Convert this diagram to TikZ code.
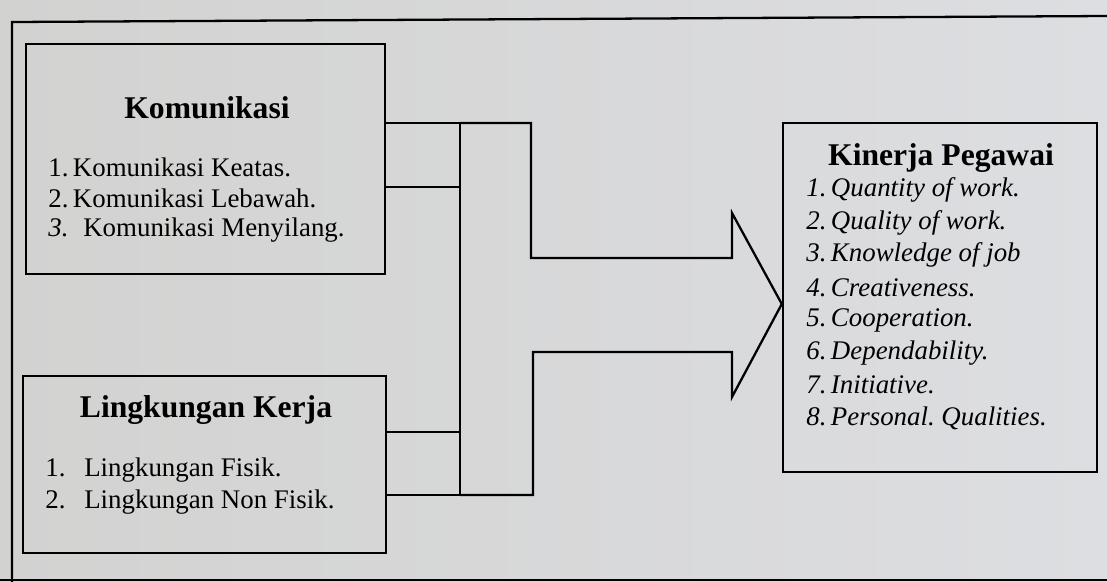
\documentclass[tikz,border=0pt]{standalone}
\usepackage{fontspec}
\setmainfont{Liberation Serif}
\definecolor{paperL}{RGB}{210,210,209}
\definecolor{paperR}{RGB}{221,222,225}

\begin{document}
\begin{tikzpicture}[x=0.02cm, y=0.02cm]
	    \tikzstyle{every node}+=[inner sep=0pt]
	    \tikzstyle{line}=[black, line width=1.3pt]
	    \tikzstyle{box}=[draw=black, line width=1.4pt]
	    \tikzstyle{head}=[font=\fontsize{18}{20}\selectfont\bfseries]
	    \tikzstyle{item}=[anchor=west, font=\fontsize{15.3}{18}\selectfont]
	    \shade [left color=paperL, right color=paperR] (0,0) rectangle (1107,-582);
	    \useasboundingbox (0,0) rectangle (1107,-582);
	    % page frame
	    \draw [line] (1107,-16) -- (12,-22) -- (12,-582);
	    \draw [line] (0,-580) -- (1107,-580);
	    % Komunikasi
	    \node [box, minimum width=7.18cm, minimum height=4.6cm] (kom) at (205.5,-159) {};
	    \node [head] (komhead) at (207,-108) {Komunikasi};
	    \node [item] (kom1) at (48,-167) {1.\,Komunikasi Keatas.};
	    \node [item] (kom2) at (48,-198) {2.\,Komunikasi Lebawah.};
	    \node [item] (kom3) at (48,-230) {\textit{3.}\hspace{0.55em}Komunikasi Menyilang.};
	    % Lingkungan Kerja
	    \node [box, minimum width=7.26cm, minimum height=3.54cm] (lin) at (204.5,-464.5) {};
	    \node [head] (linhead) at (206,-410) {Lingkungan Kerja};
	    \node [item] (lin1) at (45,-470) {1.\hspace{0.7em}Lingkungan Fisik.};
	    \node [item] (lin2) at (45,-502) {2.\hspace{0.7em}Lingkungan Non Fisik.};
	    % Kinerja Pegawai
	    \node [box, minimum width=6.28cm, minimum height=6.98cm] (kin) at (940,-297.5) {};
	    \node [head] (kinhead) at (941,-158) {Kinerja Pegawai};
	    \node [item] (kin1) at (806,-190) {\itshape 1.\,Quantity of work.};
	    \node [item] (kin2) at (806,-223) {\itshape 2.\,Quality of work.};
	    \node [item] (kin3) at (806,-255) {\itshape 3.\,Knowledge of job};
	    \node [item] (kin4) at (806,-288) {\itshape 4.\,Creativeness.};
	    \node [item] (kin5) at (806,-320) {\itshape 5.\,Cooperation.};
	    \node [item] (kin6) at (806,-353) {\itshape 6.\,Dependability.};
	    \node [item] (kin7) at (806,-385) {\itshape 7.\,Initiative.};
	    \node [item] (kin8) at (806,-418) {\itshape 8.\,Personal.\ Qualities.};
	    % junction bar
	    \coordinate (a1) at (460,-123);
	    \coordinate (a2) at (460,-495);
	    \coordinate (a3) at (460,-187);
	    \coordinate (b1) at (460,-432);
	    \coordinate (tip) at (kin.west |- 0,-304);
	    \draw [line] (a1 -| kom.east) -- (a1) -- (a2) -- (a2 -| lin.east);
	    \draw [line] (a3 -| kom.east) -- (a3);
	    \draw [line] (b1 -| lin.east) -- (b1);
	    % block arrow
	    \draw [line, line join=miter] (a1) -- (531,-123) -- (531,-258) -- (732,-258) -- (732,-213)
	        -- (tip) -- (732,-397) -- (732,-352) -- (533,-352) -- (533,-495) -- (a2);
\end{tikzpicture}
\end{document}
